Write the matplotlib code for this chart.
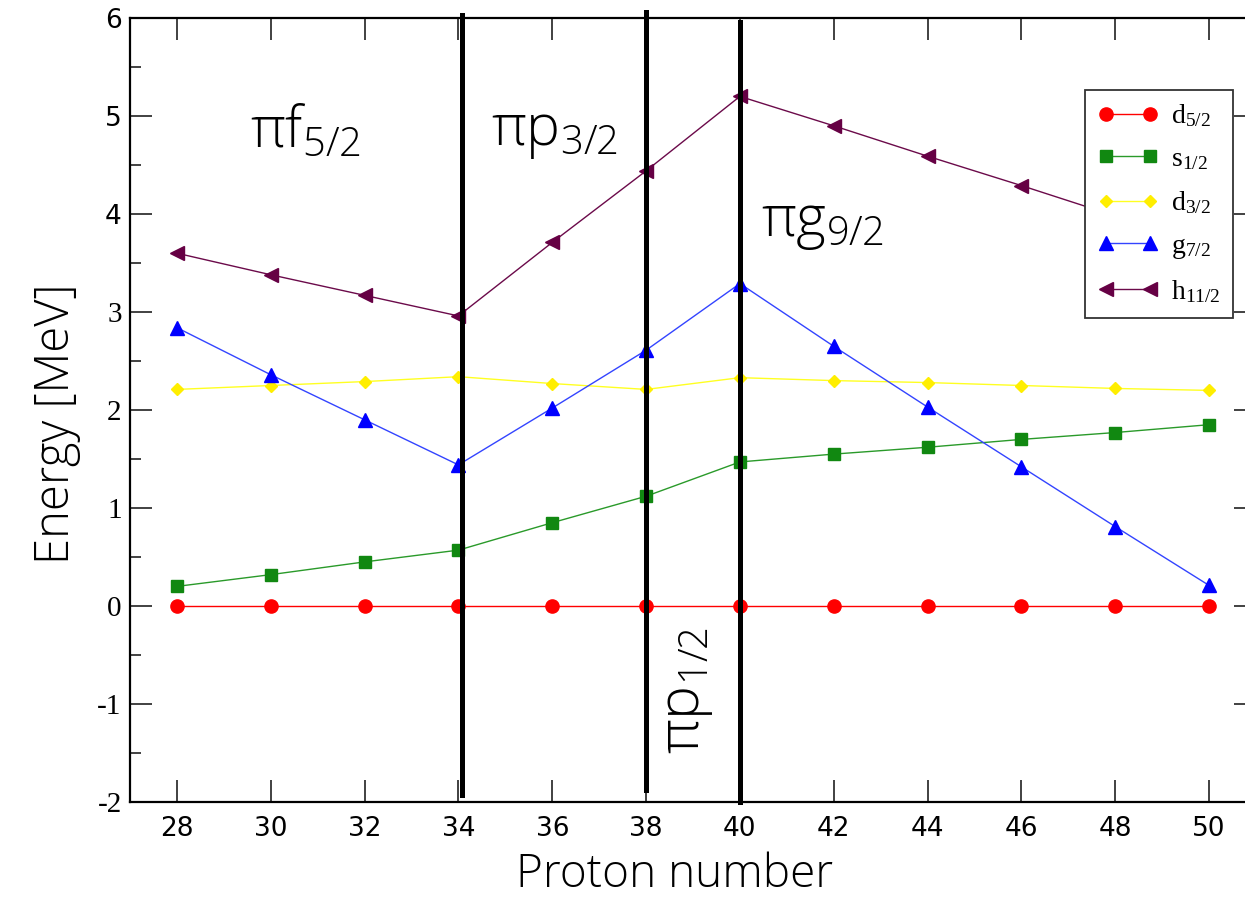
import matplotlib.pyplot as plt
from matplotlib.ticker import MultipleLocator
from matplotlib.font_manager import FontProperties

# proton number and single-particle energies (MeV)
Z = [28, 30, 32, 34, 36, 38, 40, 42, 44, 46, 48, 50]
d52 = [0, 0, 0, 0, 0, 0, 0, 0, 0, 0, 0, 0]
s12 = [0.20, 0.32, 0.45, 0.57, 0.85, 1.12, 1.47, 1.55, 1.62, 1.70, 1.77, 1.85]
d32 = [2.21, 2.25, 2.29, 2.34, 2.27, 2.21, 2.33, 2.30, 2.28, 2.25, 2.22, 2.20]
g72 = [2.84, 2.36, 1.90, 1.44, 2.02, 2.61, 3.29, 2.65, 2.03, 1.42, 0.81, 0.21]
h112 = [3.60, 3.38, 3.17, 2.96, 3.71, 4.44, 5.20, 4.90, 4.59, 4.29, 3.98, 3.70]

# shell boundaries (x, y bottom, y top)
bounds_x = [34.07, 38.0, 40.0]
bounds_lo = [-1.93, -1.88, -2.0]
bounds_hi = [6.03, 6.06, 5.96]

fig = plt.figure(figsize=(12.45, 9.19), dpi=100)
ax = fig.add_axes([130 / 1245, 117 / 919, 1126 / 1245, 784 / 919])

ax.plot(Z, d52, '-o', color='#ff0000', mfc='#ff0000', mec='#ff0000', lw=1, ms=9.5, label=r'$\mathregular{d_{5/2}}$')
ax.plot(Z, s12, '-s', color='#2a9a2a', mfc='#118811', mec='#118811', lw=1, ms=8.5, label=r'$\mathregular{s_{1/2}}$')
ax.plot(Z, d32, '-D', color='#ffff22', mfc='#ffee00', mec='#ffee00', lw=1, ms=6.5, label=r'$\mathregular{d_{3/2}}$')
ax.plot(Z, g72, '-^', color='#3344ff', mfc='#0000ff', mec='#0000ff', lw=1, ms=10.5, label=r'$\mathregular{g_{7/2}}$')
ax.plot(Z, h112, '-<', color='#6b0a4a', mfc='#660044', mec='#660044', lw=1, ms=10.5, label=r'$\mathregular{h_{11/2}}$')

for x, lo, hi in zip(bounds_x, bounds_lo, bounds_hi):
    ax.plot([x, x], [lo, hi], color='black', lw=3.6, clip_on=False, zorder=5)

ax.set_xlim(27, 51)
ax.set_ylim(-2, 6)
ax.xaxis.set_major_locator(MultipleLocator(2))
ax.yaxis.set_major_locator(MultipleLocator(1))
ax.yaxis.set_minor_locator(MultipleLocator(0.5))
ax.tick_params(which='both', direction='in', top=True, right=True, width=1.3, colors='#333333')
ax.tick_params(which='major', length=16, labelsize=19, labelcolor='black')
ax.tick_params(axis='x', which='major', pad=10)
ax.tick_params(axis='y', which='major', pad=6)
ax.tick_params(which='minor', length=8)
for s in ax.spines.values():
    s.set_linewidth(1.6)

# tick label fonts: mixed serif / sans as in the original
for lab in ax.get_xticklabels():
    lab.set_family('DejaVu Sans')
ax.set_yticks([-2, -1, 0, 1, 2, 3, 4, 5, 6])
ax.set_yticklabels(['-2', '-1', '0', '1', '2', '3', '4', '5', '6'])
for lab in ax.get_yticklabels():
    if lab.get_text() in ('4', '5', '6'):
        lab.set_family('DejaVu Sans')
    else:
        lab.set_family('Liberation Serif')
        lab.set_fontsize(21)

ax.set_xlabel('Proton number', fontsize=33, family='Open Sans', fontweight='light', labelpad=7)
ax.set_ylabel('Energy [MeV]', fontsize=34, family='Open Sans', fontweight='light', labelpad=12)
ax.xaxis.label.set_x(0.484)
ax.yaxis.label.set_y(0.483)

ann = dict(fontsize=41, family='Open Sans', fontweight='light', va='center')
ax.text(29.55, 4.83, r'$\mathregular{\pi f_{5/2}}$', **ann)
ax.text(34.7, 4.83, r'$\mathregular{\pi p_{3/2}}$', **ann)
ax.text(40.45, 3.91, r'$\mathregular{\pi g_{9/2}}$', **ann)
ax.text(38.85, -0.86, r'$\mathregular{\pi p_{1/2}}$', rotation=90, ha='center', **ann)

leg = ax.legend(loc='upper right', bbox_to_anchor=(0.98, 0.908), fancybox=False,
                edgecolor='#333333', framealpha=1, borderpad=0.45, labelspacing=0.62,
                numpoints=2, handlelength=2.2, handletextpad=0.45, borderaxespad=0,
                prop=FontProperties(family='Liberation Serif', size=20, math_fontfamily='stix'))
leg.get_frame().set_linewidth(1.3)
leg.set_zorder(10)

fig.savefig('out.png', dpi=100)
